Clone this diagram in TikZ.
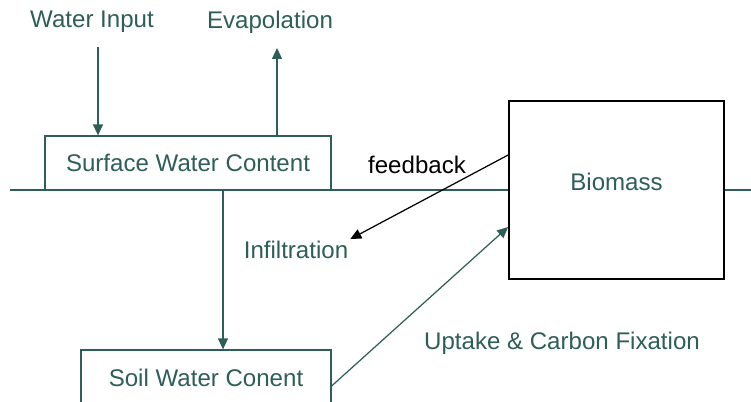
\documentclass[tikz,border=0pt]{standalone}
\usepackage{fontspec}
\setmainfont{Liberation Sans}
\usepackage{tikz}
\usetikzlibrary{arrows.meta,positioning,calc}
\definecolor{slate}{RGB}{46,94,87}

\begin{document}
\begin{tikzpicture}[scale = 1,
  txt/.style={font=\fontsize{13.7}{16}\selectfont, text=slate, inner sep=1pt},
  pool/.style={draw=slate, line width=0.7pt, minimum width=#1, minimum height=1.08cm, txt},
  flow/.style={-{Triangle[length=0.22cm,width=0.2cm]}, line width=0.7pt, draw=slate}]
\useasboundingbox (0,0) rectangle (15.02,8.02);
% stores
\node[pool=5.72cm] (swc) at (3.76,4.76) {Surface Water Content};
\node[pool=5cm, minimum height=1.12cm] (sowc) at (4.12,0.46) {Soil Water Conent};
\node[draw=black, line width=1pt, minimum width=4.3cm, minimum height=3.56cm, txt, text depth=0.32cm] (bio) at (12.33,4.22) {Biomass};
% labels
\node[txt] (win) at (1.84,7.58) {Water Input};
\node[txt] (evap) at (5.4,7.58) {Evapolation};
\node[txt, text=black] (fb) at (8.34,4.72) {feedback};
\node[txt] (infil) at (5.92,3.02) {Infiltration};
\node[txt] (upt) at (11.24,1.16) {Uptake \& Carbon Fixation};
% ends
\coordinate (lft) at (0.2,4.22);
\coordinate (rgt) at (15.02,4.22);
\coordinate (wtop) at (1.96,7.08);
\coordinate (etop) at (5.54,7.06);
\coordinate (drop) at ([xshift=0.7cm]swc.south);
% ground line
\draw[slate, line width=0.7pt] (lft) -- (bio.west);
\draw[slate, line width=0.7pt] (bio.east) -- (rgt);
% flows
\draw[flow] (wtop) -- (wtop |- swc.north);
\draw[flow] (etop |- swc.north) -- (etop);
\draw[flow] (drop) -- (drop |- sowc.north);
\draw[flow] ([yshift=-0.16cm]sowc.east) -- ([yshift=-0.74cm]bio.west);
\draw[-{Triangle[length=0.22cm,width=0.2cm]}, line width=0.7pt, black] ([yshift=0.7cm]bio.west) -- (infil.north east);
\end{tikzpicture}
\end{document}
